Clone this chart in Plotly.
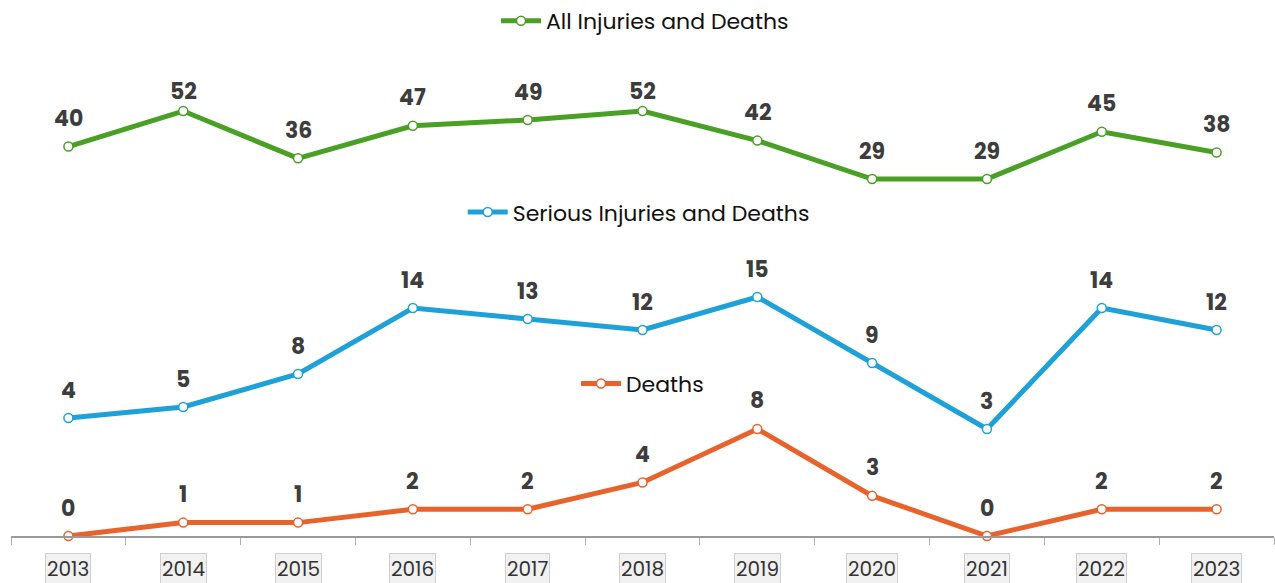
import plotly.graph_objects as go

years = ["2013", "2014", "2015", "2016", "2017", "2018", "2019", "2020", "2021", "2022", "2023"]
all_injuries = [40, 52, 36, 47, 49, 52, 42, 29, 29, 45, 38]
serious = [4, 5, 8, 14, 13, 12, 15, 9, 3, 14, 12]
deaths = [0, 1, 1, 2, 2, 4, 8, 3, 0, 2, 2]

FONT = "Poppins, Inter, sans-serif"
LABEL_COLOR = "#3d3d3d"

PLOT_H = 536  # plot area height in px (583 - bottom margin)
ranges = {"y": [0, 40.07], "y2": [-6.727, 42.0], "y3": [-91.7, 89.55]}

series = [
    ("All Injuries and Deaths", all_injuries, "#4a9f25", "y3", "legend"),
    ("Serious Injuries and Deaths", serious, "#1ea0d8", "y2", "legend2"),
    ("Deaths", deaths, "#e8622b", "y", "legend3"),
]

fig = go.Figure()
annotations = []
for name, vals, color, yax, leg in series:
    fig.add_trace(go.Scatter(
        x=years, y=vals, name=name, mode="lines+markers",
        line=dict(color=color, width=5),
        marker=dict(size=9, color="white", line=dict(color=color, width=1.5)),
        yaxis=yax, legend=leg, cliponaxis=False,
    ))
    lo, hi = ranges[yax]
    for i, v in enumerate(vals):
        py = PLOT_H * (hi - v) / (hi - lo)
        shift = min(28, py - 92)  # keep labels below the top legend
        annotations.append(dict(
            x=i, y=v, xref="x", yref=yax, text=f"<b>{v}</b>", showarrow=False,
            yshift=shift, font=dict(family=FONT, size=22, color=LABEL_COLOR),
        ))

for i, yr in enumerate(years):
    annotations.append(dict(
        x=i, y=0, xref="x", yref="paper", yanchor="top", yshift=-17,
        text=yr, showarrow=False, bgcolor="#f1f1f1", bordercolor="#cfcfcf",
        borderwidth=1, borderpad=1,
        font=dict(family=FONT, size=20, color="#333333"),
    ))

legend_common = dict(
    orientation="h", xanchor="center", yanchor="middle",
    font=dict(family=FONT, size=22, color="#111111"),
    bgcolor="rgba(0,0,0,0)", itemwidth=40,
)

fig.update_layout(
    width=1275, height=583,
    margin=dict(l=11, r=1, t=0, b=47),
    plot_bgcolor="white", paper_bgcolor="white",
    showlegend=True,
    legend=dict(x=0.502, y=0.961, **legend_common),
    legend2=dict(x=0.497, y=0.604, **legend_common),
    legend3=dict(x=0.5, y=0.284, **legend_common),
    xaxis=dict(
        type="category", range=[-0.5, 10.5], showgrid=False,
        showline=True, linecolor="#9a9a9a", linewidth=1.5,
        ticks="outside", tickson="boundaries", ticklen=7, tickcolor="#b0b0b0",
        showticklabels=False, zeroline=False,
    ),
    yaxis=dict(range=ranges["y"], visible=False),
    yaxis2=dict(range=ranges["y2"], visible=False, overlaying="y"),
    yaxis3=dict(range=ranges["y3"], visible=False, overlaying="y"),
    annotations=annotations,
)

fig.write_html("out.html")
